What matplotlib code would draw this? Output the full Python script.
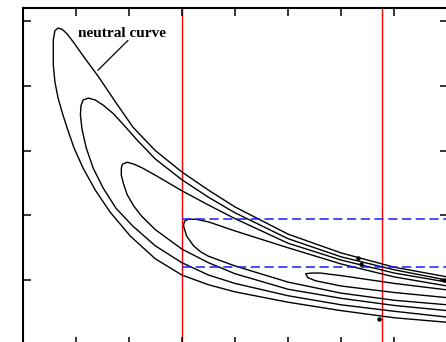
import numpy as np
import matplotlib
matplotlib.use("Agg")
import matplotlib.pyplot as plt

# growth-rate contours: each loop has an upper and a lower branch, both starting at the loop tip
A_UP_X = [0.67, 0.75, 0.84, 0.97, 1.16, 1.43, 1.75, 2.08, 2.5, 3.0, 3.5, 4.0, 5.0, 6.0, 7.0, 8.0]
A_UP_Y = [4.89, 4.87, 4.80, 4.66, 4.44, 4.14, 3.75, 3.36, 3.00, 2.67, 2.39, 2.13, 1.71, 1.42, 1.20, 1.05]
A_LO_X = [0.67, 0.61, 0.58, 0.58, 0.61, 0.67, 0.75, 0.84, 0.97, 1.14, 1.37, 1.65, 2.03, 2.5, 3.0, 3.5, 4.0, 5.0, 6.0, 7.0, 8.0]
A_LO_Y = [4.89, 4.85, 4.71, 4.32, 4.06, 3.81, 3.58, 3.35, 3.04, 2.73, 2.39, 2.05, 1.68, 1.33, 1.08, 0.93, 0.82, 0.66, 0.53, 0.42, 0.35]

B_UP_X = [1.14, 1.24, 1.37, 1.52, 1.71, 1.90, 2.16, 2.5, 3.0, 3.5, 4.0, 5.0, 6.0, 7.0, 8.0]
B_UP_Y = [3.78, 3.81, 3.78, 3.70, 3.57, 3.40, 3.16, 2.87, 2.55, 2.28, 2.04, 1.64, 1.36, 1.16, 1.00]
B_LO_X = [1.14, 1.10, 1.09, 1.12, 1.20, 1.33, 1.52, 1.76, 2.07, 2.5, 3.0, 3.5, 4.0, 5.0, 6.0, 7.0, 8.0]
B_LO_Y = [3.78, 3.69, 3.55, 3.33, 3.04, 2.73, 2.42, 2.11, 1.84, 1.53, 1.27, 1.08, 0.95, 0.76, 0.62, 0.52, 0.43]

C_UP_X = [1.88, 1.97, 2.10, 2.26, 2.5, 3.0, 3.5, 4.0, 5.0, 6.0, 7.0, 8.0]
C_UP_Y = [2.79, 2.82, 2.79, 2.73, 2.62, 2.38, 2.16, 1.95, 1.57, 1.31, 1.11, 0.97]
C_LO_X = [1.88, 1.86, 1.86, 1.90, 1.97, 2.09, 2.24, 2.5, 3.0, 3.5, 4.0, 5.0, 6.0, 7.0, 8.0]
C_LO_Y = [2.79, 2.73, 2.62, 2.49, 2.32, 2.15, 1.99, 1.78, 1.48, 1.27, 1.10, 0.86, 0.72, 0.61, 0.53]

D_UP_X = [3.05, 3.12, 3.27, 3.5, 4.0, 5.0, 6.0, 7.0, 8.0]
D_UP_Y = [1.91, 1.94, 1.94, 1.90, 1.76, 1.50, 1.25, 1.05, 0.91]
D_LO_X = [3.05, 3.03, 3.09, 3.22, 3.35, 3.5, 4.0, 5.0, 6.0, 7.0, 8.0]
D_LO_Y = [1.91, 1.84, 1.68, 1.53, 1.44, 1.37, 1.22, 0.97, 0.80, 0.69, 0.62]

E_UP_X = [5.33, 5.43, 5.61, 6.0, 7.0, 8.0]
E_UP_Y = [1.10, 1.11, 1.11, 1.07, 0.95, 0.85]
E_LO_X = [5.33, 5.37, 5.52, 6.0, 7.0, 8.0]
E_LO_Y = [1.10, 1.04, 0.99, 0.91, 0.81, 0.73]

LOOPS = [(A_UP_X, A_UP_Y, A_LO_X, A_LO_Y), (B_UP_X, B_UP_Y, B_LO_X, B_LO_Y),
         (C_UP_X, C_UP_Y, C_LO_X, C_LO_Y), (D_UP_X, D_UP_Y, D_LO_X, D_LO_Y),
         (E_UP_X, E_UP_Y, E_LO_X, E_LO_Y)]

RED_X = [3.0, 6.76]          # vertical red lines
BLUE_Y = [1.95, 1.20]        # dashed blue levels
BLUE_X0 = 3.0
MARK_X = [6.31, 6.37, 6.71, 7.93]
MARK_Y = [1.34, 1.25, 0.40, 1.00]

fig = plt.figure(figsize=(4.46, 3.42), dpi=100)
ax = fig.add_axes([22.5 / 446, -3 / 342, 425 / 446, 337 / 342])

for ux, uy, lx, ly in LOOPS:
    x = np.r_[np.array(lx)[::-1], np.array(ux)[1:]]
    y = np.r_[np.array(ly)[::-1], np.array(uy)[1:]]
    ax.plot(x, y, color="black", lw=1.0, solid_joinstyle="round")

for xr in RED_X:
    ax.axvline(xr, color="#ff0000", lw=1.0, zorder=1)
for yb in BLUE_Y:
    ax.plot([BLUE_X0, 8.0], [yb, yb], color="#1a1aff", lw=1.1, ls=(0, (6, 3)), zorder=2)

ax.plot(MARK_X, MARK_Y, "o", color="black", ms=2.2, ls="none")

ax.text(1.88, 4.80, "neutral curve", ha="center", va="center", fontsize=11,
        fontweight="bold", family=["Liberation Serif", "DejaVu Serif"])
ax.annotate("", xy=(1.42, 4.24), xytext=(1.985, 4.70),
            arrowprops=dict(arrowstyle="-", lw=0.9, color="black", shrinkA=0, shrinkB=0))

ax.set_xlim(0, 8)
ax.set_ylim(0, 5.2)
ax.set_xticks(range(0, 9))
ax.set_yticks(range(0, 6))
ax.tick_params(direction="in", top=True, right=True, length=6, width=1.1,
               labelbottom=False, labelleft=False)
for s in ax.spines.values():
    s.set_linewidth(1.5)

fig.savefig("out.png", dpi=100, facecolor="white")
